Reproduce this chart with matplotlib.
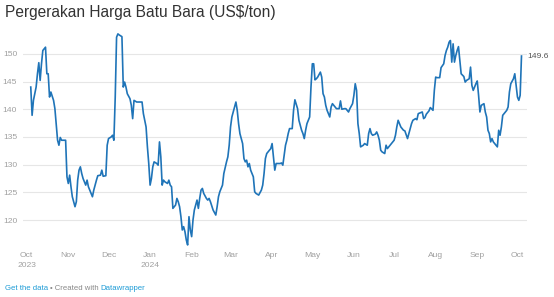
import numpy as np
import matplotlib
matplotlib.use('Agg')
import matplotlib.pyplot as plt
import matplotlib.dates as mdates

# days since 2023-10-01
days = [3, 4, 5, 7, 8, 9, 10, 11, 12, 13, 14, 15, 16, 17, 18, 20, 21, 23, 24, 25,
        26, 29, 30, 31, 32, 33, 34, 36, 37, 38, 39, 40, 41, 42, 44, 45, 46, 47, 49, 50,
        52, 53, 55, 56, 57, 59, 60, 61, 63, 64, 65, 66, 67, 68, 69, 71, 72, 73, 74, 75,
        77, 78, 79, 80, 82, 84, 86, 87, 89, 90, 91, 92, 93, 94, 95, 97, 98, 99, 100, 101,
        102, 103, 105, 106, 107, 108, 109, 111, 112, 113, 114, 115, 116, 117, 118, 119, 120, 121, 122, 123,
        124, 125, 127, 128, 129, 130, 131, 132, 134, 135, 136, 137, 139, 141, 142, 143, 144, 146, 147, 149,
        150, 151, 152, 153, 155, 156, 157, 158, 159, 161, 162, 163, 164, 165, 166, 167, 169, 170, 171, 173,
        175, 176, 177, 178, 179, 181, 182, 183, 185, 186, 189, 190, 191, 193, 194, 195, 196, 198, 199, 200,
        202, 203, 205, 206, 207, 208, 209, 211, 212, 213, 214, 215, 216, 217, 219, 220, 221, 222, 223, 224,
        226, 227, 228, 229, 231, 233, 234, 235, 237, 238, 240, 241, 243, 244, 245, 246, 247, 248, 249, 251,
        252, 254, 255, 256, 257, 258, 260, 261, 262, 263, 264, 265, 267, 268, 269, 270, 272, 274, 275, 276,
        277, 278, 279, 281, 282, 284, 285, 286, 287, 288, 290, 291, 292, 293, 295, 296, 297, 298, 300, 301,
        303, 304, 305, 306, 308, 309, 311, 312, 313, 314, 315, 316, 317, 318, 319, 320, 321, 322, 323, 324,
        326, 327, 328, 330, 331, 332, 333, 334, 335, 336, 337, 338, 339, 341, 342, 343, 344, 345, 346, 347,
        348, 350, 351, 352, 353, 354, 355, 356, 358, 359, 360, 361, 363, 364, 365, 366, 367, 368, 369]

price = [144.0, 138.9, 141.6, 144.0, 146.4, 148.4, 145.2, 148.2, 150.6, 150.9, 151.2, 146.4, 146.4, 142.2, 143.1, 141.6, 140.1, 134.4, 133.5, 134.9,
         134.4, 134.4, 127.8, 126.6, 128.1, 126.0, 124.2, 122.4, 123.3, 127.2, 129.0, 129.6, 128.4, 127.5, 126.3, 127.2, 126.0, 125.4, 124.2, 125.4,
         127.2, 128.0, 128.1, 129.0, 127.9, 128.0, 133.5, 134.7, 135.0, 135.3, 134.4, 142.2, 153.0, 153.6, 153.4, 153.1, 144.0, 144.9, 144.0, 142.8,
         141.9, 140.7, 138.3, 141.6, 141.3, 141.3, 141.3, 139.2, 136.8, 133.2, 130.2, 126.3, 127.5, 129.6, 130.5, 130.2, 129.9, 134.1, 131.4, 126.3,
         127.2, 126.9, 126.6, 127.2, 126.3, 126.0, 122.1, 122.7, 123.9, 123.3, 122.4, 120.6, 118.2, 118.8, 117.9, 116.4, 115.5, 120.6, 118.2, 117.0,
         120.0, 121.8, 123.6, 122.1, 123.9, 125.4, 125.7, 124.8, 123.9, 123.6, 123.9, 123.3, 121.8, 120.9, 122.4, 124.2, 125.1, 126.3, 128.4, 130.5,
         131.4, 133.5, 136.8, 138.6, 140.4, 141.3, 139.8, 137.4, 135.6, 133.8, 131.1, 130.5, 130.8, 129.6, 130.2, 129.0, 127.8, 125.1, 124.8, 124.5,
         125.4, 126.3, 128.4, 131.1, 132.0, 132.6, 132.9, 133.8, 129.0, 130.2, 130.2, 130.3, 129.9, 133.5, 134.4, 135.6, 136.5, 136.5, 139.8, 141.7,
         140.1, 138.0, 136.2, 135.6, 134.7, 136.2, 137.4, 138.6, 144.0, 148.2, 148.2, 145.3, 145.5, 145.8, 146.7, 145.8, 142.8, 142.2, 140.7, 139.8,
         138.6, 140.4, 141.0, 140.7, 140.1, 140.1, 141.5, 140.0, 140.1, 140.1, 139.5, 140.1, 141.0, 142.5, 144.6, 143.4, 137.4, 135.6, 133.2, 133.5,
         133.8, 133.5, 135.6, 136.5, 135.6, 135.3, 135.5, 135.9, 135.3, 134.4, 132.6, 132.3, 132.0, 133.5, 132.9, 133.2, 133.8, 134.4, 135.3, 136.8,
         138.0, 137.4, 136.8, 136.2, 136.1, 134.7, 135.6, 136.5, 137.4, 138.0, 138.3, 138.1, 139.2, 139.3, 139.5, 138.3, 138.5, 139.1, 139.7, 140.3,
         139.8, 143.4, 145.8, 145.7, 145.7, 147.5, 148.2, 149.7, 150.6, 151.2, 152.1, 152.4, 148.5, 151.8, 148.5, 149.7, 150.6, 151.3, 148.8, 146.4,
         145.9, 144.9, 145.2, 145.5, 147.6, 144.3, 143.4, 144.0, 144.6, 145.1, 142.5, 139.5, 140.7, 141.0, 139.5, 138.6, 136.2, 135.6, 134.1, 134.7,
         134.1, 133.5, 133.2, 136.2, 135.3, 136.8, 138.9, 139.2, 139.8, 140.4, 143.1, 144.6, 145.5, 146.4, 144.3, 142.2, 141.6, 142.5, 149.6]

y_ticks = [120, 125, 130, 135, 140, 145, 150]
title = 'Pergerakan Harga Batu Bara (US$/ton)'

dates = np.datetime64('2023-10-01') + np.array(days).astype('timedelta64[D]')

plt.rcParams['font.family'] = ['Liberation Sans', 'DejaVu Sans']

fig = plt.figure(figsize=(5.54, 2.97), dpi=100)
ax = fig.add_axes([0.041, 0.165, 0.910, 0.734])

ax.plot(dates, price, color='#1f74b8', lw=1.2, solid_joinstyle='round')

ax.set_xlim(np.datetime64('2023-10-01') - np.timedelta64(3, 'D'),
            np.datetime64('2023-10-01') + np.timedelta64(373, 'D'))
ax.set_ylim(114.95, 154.3)

ax.set_yticks(y_ticks)
ax.grid(axis='y', color='#e6e6e6', lw=0.8)
ax.set_axisbelow(True)
for s in ax.spines.values():
    s.set_visible(False)

ax.xaxis.set_major_locator(mdates.MonthLocator())

def month_fmt(x, pos=None):
    d = mdates.num2date(x)
    lab = d.strftime('%b')
    if d.month == 1 or pos == 0:
        lab += '\n' + d.strftime('%Y')
    return lab

ax.xaxis.set_major_formatter(plt.FuncFormatter(month_fmt))
ax.tick_params(axis='both', length=0, labelsize=6.1, labelcolor='#a0a0a0')
ax.tick_params(axis='x', pad=3)
ax.tick_params(axis='y', pad=4)
for lbl in ax.get_xticklabels():
    lbl.set_linespacing(1.6)

ax.annotate(f'{price[-1]}', xy=(dates[-1], price[-1]), xytext=(4, 0),
            textcoords='offset points', fontsize=6.1, color='#555555',
            va='center', ha='left')

fig.text(5 / 554, 1 - 13 / 297, title, fontsize=11.2, color='#333333', va='center', ha='left')

foot_y = 1 - 289 / 297
t1 = fig.text(5 / 554, foot_y, 'Get the data', fontsize=5.6, color='#1d9bd6', va='center')
fig.canvas.draw()
r = fig.canvas.get_renderer()
bb = t1.get_window_extent(r)
t2 = fig.text(bb.x1 / 554 + 0.003, foot_y, '\u2022 Created with', fontsize=5.6, color='#888888', va='center')
bb = t2.get_window_extent(r)
fig.text(bb.x1 / 554 + 0.003, foot_y, 'Datawrapper', fontsize=5.6, color='#1d9bd6', va='center')

fig.savefig('out.png', dpi=100)
